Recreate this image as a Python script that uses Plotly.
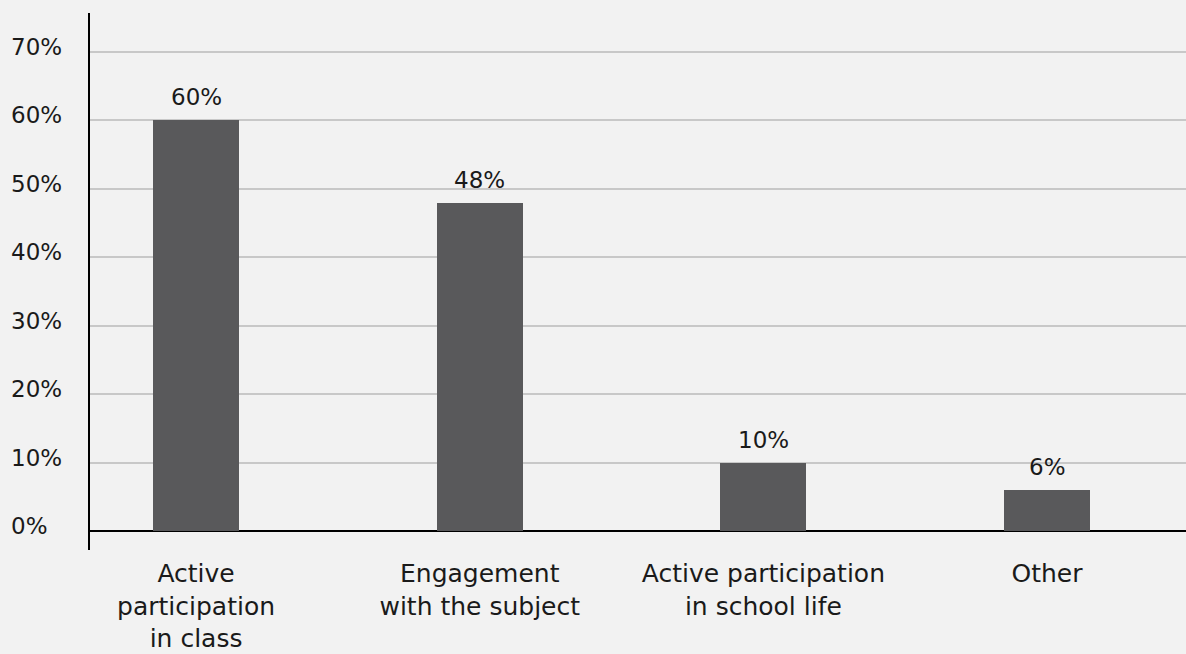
import plotly.graph_objects as go

# Survey results: share of respondents per category
categories = [
    "Active<br>participation<br>in class",
    "Engagement<br>with the subject",
    "Active participation<br>in school life",
    "Other",
]
values = [60, 48, 10, 6]
value_labels = ["60%", "48%", "10%", "6%"]

y_ticks = [0, 10, 20, 30, 40, 50, 60, 70]
y_tick_labels = ["0%", "10%", "20%", "30%", "40%", "50%", "60%", "70%"]

FONT = "DejaVu Sans"
TEXT_COLOR = "#1a1a1a"
BAR_COLOR = "#59595b"
BG = "#f2f2f2"
GRID = "#c8c8c8"

fig = go.Figure(
    go.Bar(
        x=categories,
        y=values,
        marker=dict(color=BAR_COLOR, line=dict(width=0)),
        width=0.303,
        hoverinfo="skip",
    )
)

annotations = []
# value labels above each bar
for cat, val, lab in zip(categories, values, value_labels):
    annotations.append(dict(
        x=cat, y=val, xref="x", yref="y", text=lab, showarrow=False,
        yanchor="middle", yshift=23,
        font=dict(family=FONT, size=23, color=TEXT_COLOR),
    ))
# left-aligned y tick labels
for t, lab in zip(y_ticks, y_tick_labels):
    annotations.append(dict(
        x=-0.0735, y=t, xref="paper", yref="y", text=lab, showarrow=False,
        xanchor="left", yanchor="middle", yshift=5,
        font=dict(family=FONT, size=23, color=TEXT_COLOR),
    ))

fig.update_layout(
    width=1186,
    height=654,
    margin=dict(l=90, r=0, t=13, b=104),
    paper_bgcolor=BG,
    plot_bgcolor=BG,
    showlegend=False,
    bargap=0,
    annotations=annotations,
    font=dict(family=FONT, size=23, color=TEXT_COLOR),
)

fig.update_xaxes(
    type="category",
    range=[-0.374, 3.49],
    showgrid=False,
    showline=False,
    zeroline=False,
    ticks="",
    tickfont=dict(family=FONT, size=25, color=TEXT_COLOR),
    ticklabelstandoff=6,
)

fig.update_yaxes(
    range=[-2.78, 75.7],
    tickvals=y_ticks,
    showticklabels=False,
    showgrid=True,
    gridcolor=GRID,
    gridwidth=2,
    showline=True,
    linecolor="#000000",
    linewidth=2,
    zeroline=True,
    zerolinecolor="#000000",
    zerolinewidth=2,
    ticks="",
)

fig.write_html("out.html")
